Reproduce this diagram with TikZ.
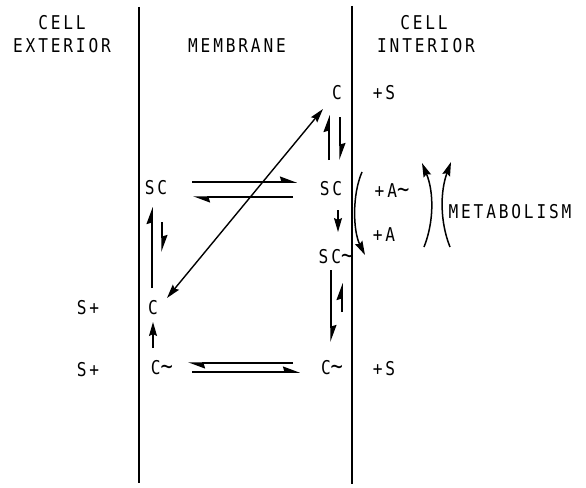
\documentclass[tikz,border=0pt]{standalone}
\usepackage{fontspec}
\newfontfamily\monofam[FakeStretch=0.85,LetterSpace=15]{DejaVu Sans Mono}
\newcommand{\tld}{{\fontsize{24}{20}\selectfont ∼}}
\usetikzlibrary{arrows.meta,calc}
\begin{document}
\begin{tikzpicture}[x=1pt,y=-1pt,
  lbl/.style={font=\monofam\fontsize{19}{20}\selectfont, inner sep=0pt, anchor=center},
  wall/.style={line width=2.6pt},
  harp/.style={line width=1.5pt, -{Stealth[left,length=15pt,width=11pt,inset=1.5pt]}},
  full/.style={line width=1.5pt, -{Stealth[length=14pt,width=8pt,inset=2pt]}},
  dbl/.style={line width=1.4pt, {Stealth[length=14pt,width=8pt,inset=2pt]}-{Stealth[length=14pt,width=8pt,inset=2pt]}}]
\useasboundingbox (0,0) rectangle (586,487);
\fill[white] (0,0) rectangle (586,487);
% membrane walls
\coordinate (wlt) at (139,7);
\coordinate (wlb) at (139,483);
\coordinate (wrt) at (352,6);
\coordinate (wrb) at (352,484);
\draw[wall] (wlt) -- (wlb);
\draw[wall] (wrt) -- (wrb);
% headers
\node[lbl] (h1) at (62,23) {CELL};
\node[lbl] (h2) at (62,46) {EXTERIOR};
\node[lbl] (h3) at (237,46) {MEMBRANE};
\node[lbl] (h4) at (424,23) {CELL};
\node[lbl] (h5) at (426,46) {INTERIOR};
% species
\node[lbl] (Ctop) at (337,93) {C};
\node[lbl] (pS1) at (384,93) {+S};
\node[lbl] (SCl) at (156,188) {SC};
\node[lbl] (SCr) at (331,189) {SC};
\node[lbl] (SCt) at (336,257) {SC\tld};
\node[lbl] (Cl) at (153,308) {C};
\node[lbl] (Ctl) at (162,368) {C\tld};
\node[lbl] (Ctr) at (332,368) {C\tld};
\node[lbl] (pS2) at (384,369) {+S};
\node[lbl] (Sp1) at (88,308) {S+};
\node[lbl] (Sp2) at (88,370) {S+};
\node[lbl] (pAt) at (392,191) {+A\tld};
\node[lbl] (pA) at (384,235) {+A};
\node[lbl] (met) at (510,212) {METABOLISM};
% SC <-> SC
\draw[harp] ($(SCl)+(36,-6)$) -- ($(SCr)+(-34,-7)$);
\draw[harp] ($(SCr)+(-38,8)$) -- ($(SCl)+(37,9)$);
% diagonal C <-> C
\draw[dbl] ($(Cl)+(14,-10)$) -- ($(Ctop)+(-14,16)$);
% C top <-> SC right
\draw[harp] ($(SCr)+(-2,-29)$) -- ($(Ctop)+(-8,22)$);
\draw[harp] ($(Ctop)+(3,24)$) -- ($(SCr)+(9,-29)$);
% left SC <-> C
\draw[harp] ($(Cl)+(-1,-20)$) -- ($(SCl)+(-4,19)$);
\draw[harp] ($(SCl)+(6,34)$) -- ($(Cl)+(9,-56)$);
% C~ -> C
\draw[full] ($(Ctl)+(-9,-20)$) -- ($(Cl)+(0,14)$);
% C~ <-> C~
\draw[harp] ($(Ctr)+(-39,-5)$) -- ($(Ctl)+(26,-5)$);
\draw[harp] ($(Ctl)+(30,4)$) -- ($(Ctr)+(-32,4)$);
% SC -> SC~
\draw[full] ($(SCr)+(7,21)$) -- ($(SCt)+(2,-25)$);
% SC~ <-> C~
\draw[harp] ($(SCt)+(-5,13)$) -- ($(Ctr)+(-1,-26)$);
\draw[harp] ($(Ctr)+(10,-56)$) -- ($(SCt)+(6,26)$);
% +A~ -> +A arc
\draw[full] ($(pAt)+(-30,-19)$) .. controls ($(pAt)+(-40,4)$) and ($(pA)+(-31,-4)$) .. ($(pA)+(-19,20)$);
% metabolism arrows
\draw[full] ($(met)+(-86,35)$) .. controls ($(met)+(-76,10)$) and ($(met)+(-76,-20)$) .. ($(met)+(-88,-49)$);
\draw[full] ($(met)+(-60,35)$) .. controls ($(met)+(-70,10)$) and ($(met)+(-70,-20)$) .. ($(met)+(-59,-50)$);
\end{tikzpicture}
\end{document}
